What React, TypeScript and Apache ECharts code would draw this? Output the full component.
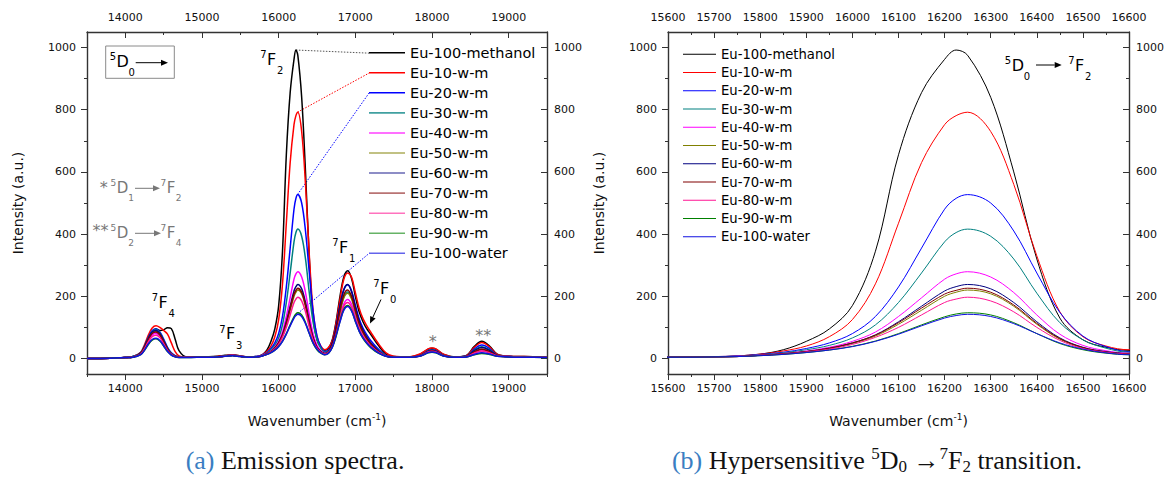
import React, { useEffect, useRef } from 'react';
import * as echarts from 'echarts';

// ---------------- data ----------------
const WAVENUMBER = [13500, 13800, 14000, 14100, 14200, 14250, 14300, 14350, 14400, 14450, 14500, 14550, 14600, 14650, 14700, 14800, 15000, 15200, 15300, 15400, 15500, 15600, 15650, 15700, 15750, 15800, 15850, 15900, 15950, 16000, 16050, 16100, 16150, 16200, 16225, 16250, 16300, 16350, 16400, 16450, 16500, 16550, 16600, 16650, 16700, 16750, 16800, 16850, 16900, 16950, 17000, 17050, 17100, 17150, 17200, 17300, 17400, 17500, 17700, 17850, 17950, 18000, 18050, 18150, 18300, 18450, 18550, 18650, 18750, 18850, 19000, 19200, 19500];

const EU_100_METHANOL = [0, 1, 3, 6, 17, 36, 64, 88, 95, 90, 92, 99, 96, 62, 25, 5, 5, 7, 10, 12, 8, 4, 4, 5, 8, 14, 28, 55, 95, 170, 345, 655, 855, 962, 992, 975, 840, 600, 320, 130, 60, 36, 26, 33, 60, 120, 200, 262, 282, 258, 200, 150, 118, 95, 78, 42, 14, 6, 5, 14, 30, 33, 30, 13, 5, 10, 38, 55, 40, 14, 7, 6, 4];
const EU_10 = [0, 1, 3, 6, 20, 44, 75, 98, 105, 100, 90, 78, 50, 22, 8, 4, 5, 6, 9, 11, 8, 5, 5, 6, 8, 14, 24, 40, 70, 125, 240, 435, 630, 752, 781, 792, 730, 560, 330, 150, 70, 40, 28, 35, 58, 115, 190, 255, 275, 262, 212, 162, 128, 105, 85, 48, 18, 7, 5, 15, 31, 34, 31, 14, 5, 9, 35, 51, 37, 13, 7, 6, 4];
const EU_20 = [0, 1, 3, 6, 18, 40, 68, 89, 95, 85, 62, 36, 18, 9, 5, 4, 4, 5, 8, 10, 7, 5, 5, 6, 8, 13, 20, 32, 50, 80, 135, 230, 355, 480, 515, 527, 500, 410, 275, 148, 72, 38, 22, 26, 48, 100, 168, 220, 237, 218, 172, 128, 98, 76, 58, 30, 10, 5, 5, 10, 25, 28, 25, 10, 5, 7, 30, 43, 32, 10, 6, 5, 4];
const EU_30 = [0, 1, 3, 6, 18, 39, 66, 86, 92, 82, 58, 33, 16, 8, 5, 4, 4, 5, 8, 10, 7, 5, 5, 6, 7, 12, 18, 28, 42, 66, 108, 180, 275, 375, 405, 416, 393, 320, 210, 115, 60, 33, 20, 24, 44, 90, 150, 198, 214, 198, 155, 115, 88, 68, 50, 26, 9, 5, 5, 10, 24, 27, 24, 10, 5, 7, 27, 38, 28, 10, 6, 5, 4];
const EU_40 = [0, 1, 3, 5, 15, 33, 57, 75, 80, 71, 50, 28, 14, 7, 4, 4, 4, 5, 8, 10, 7, 4, 4, 5, 7, 11, 16, 24, 36, 55, 85, 135, 195, 255, 272, 279, 262, 212, 140, 78, 42, 25, 17, 21, 40, 82, 135, 176, 190, 175, 138, 102, 78, 60, 45, 22, 8, 5, 5, 9, 22, 25, 22, 9, 5, 6, 18, 25, 19, 9, 6, 5, 4];
const EU_50 = [0, 1, 3, 5, 17, 37, 63, 82, 87, 77, 55, 31, 15, 7, 4, 4, 4, 5, 8, 10, 7, 4, 4, 5, 6, 10, 15, 22, 32, 48, 72, 110, 155, 200, 213, 220, 208, 168, 110, 62, 34, 21, 15, 20, 42, 88, 148, 195, 210, 192, 150, 110, 83, 62, 46, 22, 8, 5, 5, 9, 22, 25, 22, 9, 5, 6, 21, 30, 22, 9, 6, 5, 4];
const EU_60 = [0, 1, 3, 5, 17, 38, 65, 85, 90, 80, 57, 32, 15, 7, 4, 4, 4, 5, 8, 10, 7, 4, 4, 5, 6, 10, 15, 22, 33, 50, 76, 118, 168, 217, 231, 238, 224, 180, 118, 66, 36, 22, 16, 22, 50, 100, 170, 222, 238, 215, 165, 120, 90, 68, 50, 24, 8, 5, 5, 10, 23, 26, 23, 10, 5, 7, 25, 35, 26, 10, 6, 5, 4];
const EU_70 = [0, 1, 3, 5, 16, 36, 61, 80, 85, 76, 54, 30, 14, 7, 4, 4, 4, 5, 8, 10, 7, 4, 4, 5, 6, 10, 15, 22, 33, 50, 75, 115, 162, 207, 219, 226, 213, 172, 113, 64, 35, 21, 15, 21, 45, 92, 155, 205, 220, 200, 155, 113, 85, 64, 47, 22, 8, 5, 5, 9, 22, 25, 22, 9, 5, 6, 21, 30, 22, 9, 6, 5, 4];
const EU_80 = [0, 1, 3, 5, 14, 31, 54, 70, 75, 67, 47, 26, 13, 6, 4, 4, 4, 5, 8, 10, 7, 4, 4, 5, 6, 10, 14, 21, 30, 45, 68, 100, 140, 180, 191, 197, 185, 150, 100, 58, 32, 20, 14, 19, 38, 78, 128, 168, 180, 165, 130, 96, 72, 55, 41, 20, 8, 5, 5, 9, 21, 23, 21, 9, 5, 6, 17, 24, 18, 9, 6, 5, 4];
const EU_90 = [0, 1, 3, 4, 12, 26, 45, 59, 63, 56, 40, 22, 11, 5, 3, 3, 4, 5, 7, 9, 6, 4, 4, 5, 6, 9, 13, 19, 27, 39, 56, 80, 108, 134, 143, 147, 140, 115, 80, 48, 28, 17, 12, 17, 36, 72, 120, 158, 170, 155, 120, 88, 65, 48, 35, 17, 7, 4, 4, 8, 18, 20, 18, 8, 4, 5, 12, 16, 13, 7, 5, 4, 3];
const EU_100_WATER = [0, 1, 3, 4, 12, 27, 47, 61, 65, 58, 41, 23, 11, 5, 3, 3, 4, 5, 7, 9, 6, 4, 4, 5, 6, 9, 13, 19, 27, 38, 55, 78, 105, 130, 138, 142, 135, 112, 80, 50, 30, 18, 12, 17, 36, 75, 118, 155, 167, 153, 120, 88, 66, 50, 37, 18, 7, 4, 4, 8, 19, 21, 19, 8, 4, 5, 13, 18, 14, 7, 5, 4, 3];

const SERIES_NAMES = ['Eu-100-methanol', 'Eu-10-w-m', 'Eu-20-w-m', 'Eu-30-w-m', 'Eu-40-w-m', 'Eu-50-w-m', 'Eu-60-w-m', 'Eu-70-w-m', 'Eu-80-w-m', 'Eu-90-w-m', 'Eu-100-water'];
const SERIES_VALUES = [EU_100_METHANOL, EU_10, EU_20, EU_30, EU_40, EU_50, EU_60, EU_70, EU_80, EU_90, EU_100_WATER];
const SERIES_COLORS = ['#000000', '#ff0000', '#0000ff', '#008080', '#ff00ff', '#808000', '#000080', '#800000', '#ff1493', '#008000', '#1010e0'];
const LEGEND_A_COLORS = ['#000000', '#ff0000', '#0000ff', 'rgba(0,128,128,0.75)', 'rgba(255,0,255,0.75)', 'rgba(128,128,0,0.65)', 'rgba(0,0,128,0.6)', 'rgba(128,0,0,0.55)', 'rgba(255,20,147,0.6)', 'rgba(0,128,0,0.6)', 'rgba(16,16,224,0.65)'];

// tick values
const A_X_MAJOR = [14000, 15000, 16000, 17000, 18000, 19000];
const A_X_MINOR = [13500, 14500, 15500, 16500, 17500, 18500, 19500];
const B_X_MAJOR = [15600, 15700, 15800, 15900, 16000, 16100, 16200, 16300, 16400, 16500, 16600];
const B_X_MINOR = [15650, 15750, 15850, 15950, 16050, 16150, 16250, 16350, 16450, 16550];
const Y_MAJOR = [0, 200, 400, 600, 800, 1000];
const Y_MINOR = [100, 300, 500, 700, 900];

// dotted connectors: peak top -> legend entry (data coordinates of panel a)
const LINK_FROM = [[16225, 992], [16245, 792], [16245, 527], [16250, 145]];
const LINK_TO = [[17180, 982], [17180, 918], [17180, 854], [17180, 338]];
const LINK_COLORS = ['#555555', '#ff0000', '#0000ff', '#0000ff'];

const FONT = 'DejaVu Sans';
const AXIS_COLOR = '#333333';

function axisPair(kind: 'x' | 'y', gridIndex: number, position: string, min: number, max: number,
  major: number[], minor: number[], inside: boolean, labelMargin: number, name?: string, nameGap?: number) {
  const main: any = {
    type: 'value', gridIndex, position, min, max,
    axisLine: { show: true, onZero: false, lineStyle: { color: AXIS_COLOR, width: 1.4 } },
    axisTick: { show: true, inside, length: 6, customValues: major, lineStyle: { color: AXIS_COLOR, width: 1 } },
    axisLabel: {
      show: true, customValues: major, margin: labelMargin, fontSize: 11, fontFamily: FONT, color: '#111',
      formatter: (v: number) => String(v),
    },
    splitLine: { show: false },
  };
  if (name) {
    main.name = name;
    main.nameLocation = 'middle';
    main.nameGap = nameGap;
    main.nameTextStyle = {
      fontSize: 14, fontFamily: FONT, color: '#111', lineHeight: 18,
      rich: { sup: { fontSize: 9, lineHeight: 9, verticalAlign: 'top', fontFamily: FONT, color: '#111' } },
    };
  }
  const minorAxis: any = {
    type: 'value', gridIndex, position, min, max,
    axisLine: { show: false, onZero: false },
    axisTick: { show: true, inside, length: 3, customValues: minor, lineStyle: { color: AXIS_COLOR, width: 1 } },
    axisLabel: { show: false },
    splitLine: { show: false },
  };
  return [main, minorAxis];
}

function txt(x: number, y: number, text: string, size: number, color: string, align = 'left') {
  return {
    type: 'text', x, y, silent: true,
    style: {
      text, fontSize: size, fontFamily: FONT, fill: color,
      align, textAlign: align, verticalAlign: 'middle', textVerticalAlign: 'middle',
    },
  };
}

// term symbol like 7F2 : x = left edge of main letter, y = its vertical centre
function term(x: number, y: number, sup: string, main: string, sub: string, size: number, color: string, mainW: number) {
  const small = Math.round(size * 0.62);
  return {
    type: 'group', silent: true,
    children: [
      txt(x - 0.5, y - size * 0.28, sup, small, color, 'right'),
      txt(x, y, main, size, color, 'left'),
      txt(x + mainW + 0.5, y + size * 0.72, sub, small, color, 'left'),
    ],
  };
}

function arrow(x1: number, y1: number, x2: number, y2: number, color: string, head = 7, half = 3) {
  const dx = x2 - x1, dy = y2 - y1;
  const L = Math.sqrt(dx * dx + dy * dy);
  const ux = dx / L, uy = dy / L;
  const bx = x2 - ux * head, by = y2 - uy * head;
  return [
    { type: 'line', silent: true, shape: { x1, y1, x2: bx, y2: by }, style: { stroke: color, lineWidth: 1 } },
    {
      type: 'polygon', silent: true,
      shape: { points: [[x2, y2], [bx - uy * half, by + ux * half], [bx + uy * half, by - ux * half]] },
      style: { fill: color },
    },
  ];
}

export default function App() {
  const ref = useRef<HTMLDivElement>(null);
  useEffect(() => {
    if (!ref.current) return;
    const chart = echarts.init(ref.current, undefined, { renderer: 'svg' });

    const gridA = { left: 87, top: 32, width: 460, height: 342 };
    const gridB = { left: 668, top: 32, width: 461, height: 342 };

    const xName = 'Wavenumber (cm{sup|-1})';
    const xAxis = [
      ...axisPair('x', 0, 'bottom', 13500, 19500, A_X_MAJOR, A_X_MINOR, false, 9, xName, 38),
      ...axisPair('x', 0, 'top', 13500, 19500, A_X_MAJOR, A_X_MINOR, true, 9),
      ...axisPair('x', 1, 'bottom', 15600, 16600, B_X_MAJOR, B_X_MINOR, false, 9, xName, 38),
      ...axisPair('x', 1, 'top', 15600, 16600, B_X_MAJOR, B_X_MINOR, true, 9),
    ];
    const yAxis = [
      ...axisPair('y', 0, 'left', -50, 1050, Y_MAJOR, Y_MINOR, false, 11, 'Intensity (a.u.)', 60),
      ...axisPair('y', 0, 'right', -50, 1050, Y_MAJOR, Y_MINOR, true, 7),
      ...axisPair('y', 1, 'left', -50, 1050, Y_MAJOR, Y_MINOR, false, 11, 'Intensity (a.u.)', 60),
      ...axisPair('y', 1, 'right', -50, 1050, Y_MAJOR, Y_MINOR, true, 7),
    ];

    const series: any[] = [];
    SERIES_NAMES.forEach((name, i) => {
      const data = WAVENUMBER.map((x, k) => [x, SERIES_VALUES[i][k]]);
      series.push({
        type: 'line', name, data, xAxisIndex: 0, yAxisIndex: 0, symbol: 'none', smooth: 0.35,
        lineStyle: { color: SERIES_COLORS[i], width: 1.5 }, itemStyle: { color: SERIES_COLORS[i] }, z: 3,
      });
    });
    SERIES_NAMES.forEach((name, i) => {
      const data = WAVENUMBER.map((x, k) => [x, SERIES_VALUES[i][k]]);
      series.push({
        type: 'line', name, data, xAxisIndex: 4, yAxisIndex: 4, symbol: 'none', smooth: 0.35,
        lineStyle: { color: SERIES_COLORS[i], width: 1 }, itemStyle: { color: SERIES_COLORS[i] }, z: 3,
      });
    });
    LINK_FROM.forEach((p, i) => {
      series.push({
        type: 'line', name: 'link' + i, data: [p, LINK_TO[i]], xAxisIndex: 0, yAxisIndex: 0, symbol: 'none',
        lineStyle: { color: LINK_COLORS[i], width: 1, type: [1.5, 1.5] }, silent: true, z: 2,
      });
    });

    const legendA = {
      data: SERIES_NAMES.map((n, i) => ({ name: n, itemStyle: { color: LEGEND_A_COLORS[i] } })),
      orient: 'vertical', left: 369, top: 42.7, padding: 0, itemWidth: 36, itemHeight: 1.6, itemGap: 0.06,
      icon: 'rect', selectedMode: false,
      textStyle: { fontFamily: FONT, fontSize: 14.5, lineHeight: 20, color: '#000' },
    };
    const legendB = {
      data: SERIES_NAMES.map((n, i) => ({ name: n, itemStyle: { color: SERIES_COLORS[i] } })),
      orient: 'vertical', left: 683, top: 45.2, padding: 0, itemWidth: 33, itemHeight: 1, itemGap: 0,
      icon: 'rect', selectedMode: false,
      textStyle: { fontFamily: FONT, fontSize: 13.2, lineHeight: 18.25, color: '#000' },
    };

    const GRAY = '#777777';
    const graphic: any[] = [
      // 5D0 box
      { type: 'rect', silent: true, shape: { x: 105.7, y: 46, width: 68.6, height: 32.3 }, style: { fill: '#fff', stroke: '#8a8a8a', lineWidth: 1 } },
      term(116.5, 61, '5', 'D', '0', 16, '#000', 11.5),
      ...arrow(135.7, 62.7, 168, 62.7, '#000'),
      // transition labels
      term(267, 59, '7', 'F', '2', 16, '#000', 9.5),
      term(339, 247, '7', 'F', '1', 16, '#000', 9.5),
      term(380, 288, '7', 'F', '0', 16, '#000', 9.5),
      term(158.5, 302, '7', 'F', '4', 16, '#000', 9.5),
      term(226, 333.5, '7', 'F', '3', 16, '#000', 9.5),
      ...arrow(381, 299.5, 370, 323.5, '#000'),
      txt(432.7, 341, '*', 16, GRAY, 'center'),
      txt(483.3, 335, '**', 16, GRAY, 'center'),
      // legend of asterisks
      txt(103.7, 187, '*', 16, GRAY, 'center'),
      term(116.7, 187.5, '5', 'D', '1', 15, GRAY, 11),
      ...arrow(135, 188.3, 160, 188.3, GRAY),
      term(166.7, 187.5, '7', 'F', '2', 15, GRAY, 8.5),
      txt(100.5, 230, '**', 16, GRAY, 'center'),
      term(116.7, 232.5, '5', 'D', '2', 15, GRAY, 11),
      ...arrow(135, 233.3, 161, 233.3, GRAY),
      term(166.7, 232.5, '7', 'F', '4', 15, GRAY, 8.5),
      // panel b label
      term(1011.7, 65, '5', 'D', '0', 16, '#000', 11.5),
      ...arrow(1036, 65, 1061.7, 65, '#000'),
      term(1075, 65, '7', 'F', '2', 16, '#000', 9.5),
      // captions
      {
        type: 'text', silent: true, x: 295, y: 460,
        style: {
          text: '{c|(a)} {t|Emission spectra.}', align: 'center', textAlign: 'center', verticalAlign: 'middle', textVerticalAlign: 'middle',
          rich: {
            c: { fontFamily: 'Liberation Serif', fontSize: 26, fill: '#3a7ec2', color: '#3a7ec2', lineHeight: 30 },
            t: { fontFamily: 'Liberation Serif', fontSize: 26, fill: '#111', color: '#111', lineHeight: 30 },
          },
          fontFamily: 'Liberation Serif', fontSize: 26, fill: '#111',
        },
      },
      {
        type: 'text', silent: true, x: 877, y: 460,
        style: {
          text: '{c|(b)} {t|Hypersensitive }{s|5}{t|D}{u|0}{t| →}{s|7}{t|F}{u|2}{t| transition.}',
          align: 'center', textAlign: 'center', verticalAlign: 'middle', textVerticalAlign: 'middle',
          rich: {
            c: { fontFamily: 'Liberation Serif', fontSize: 26, fill: '#3a7ec2', color: '#3a7ec2', lineHeight: 30 },
            t: { fontFamily: 'Liberation Serif', fontSize: 26, fill: '#111', color: '#111', lineHeight: 30 },
            s: { fontFamily: 'Liberation Serif', fontSize: 17, fill: '#111', color: '#111', lineHeight: 17, verticalAlign: 'top' },
            u: { fontFamily: 'Liberation Serif', fontSize: 17, fill: '#111', color: '#111', lineHeight: 22, verticalAlign: 'bottom' },
          },
          fontFamily: 'Liberation Serif', fontSize: 26, fill: '#111',
        },
      },
    ];

    chart.setOption({
      animation: false,
      backgroundColor: '#ffffff',
      textStyle: { fontFamily: FONT },
      grid: [gridA, gridB],
      xAxis, yAxis,
      legend: [legendA, legendB],
      series,
      graphic,
    });
    return () => chart.dispose();
  }, []);
  return <div ref={ref} style={{ position: 'fixed', left: 0, top: 0, width: 1172, height: 478, background: '#fff' }} />;
}
